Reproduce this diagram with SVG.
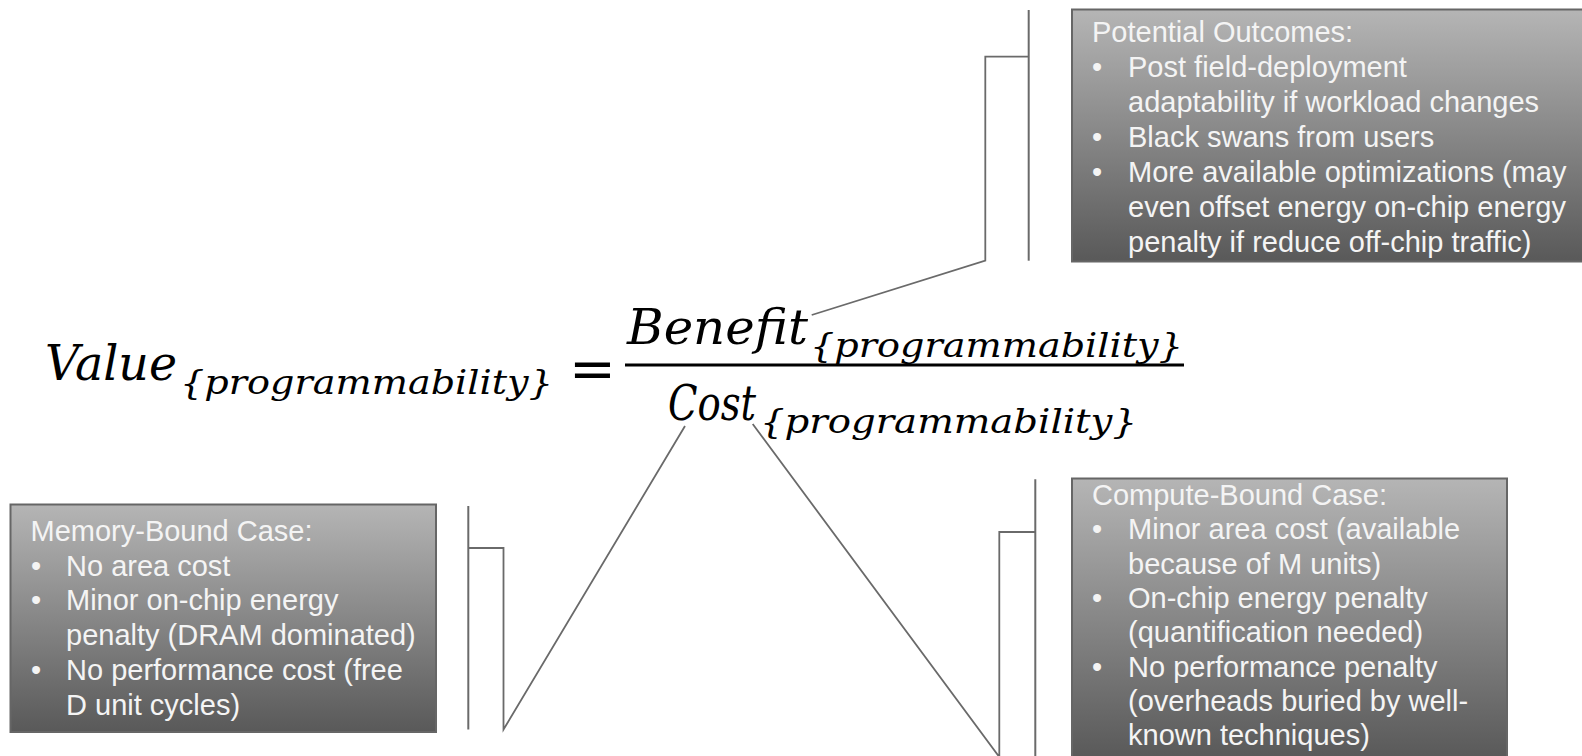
<svg xmlns="http://www.w3.org/2000/svg" width="1582" height="756" viewBox="0 0 1582 756">
  <defs>
    <linearGradient id="boxFill" x1="0" y1="0" x2="0" y2="1">
      <stop offset="0" stop-color="#b5b5b5"/>
      <stop offset="1" stop-color="#595959"/>
    </linearGradient>
    <style>
      .box { fill: url(#boxFill); stroke: #666666; stroke-width: 2; }
      .bar { stroke: #6a6a6a; stroke-width: 2; fill: none; }
      .lead { stroke: #6a6a6a; stroke-width: 1.8; fill: none; }
      .txt { font-family: "Liberation Sans", Arial, sans-serif; font-size: 29px; fill: #f4f4f4; }
      .math { font-family: "DejaVu Serif", "Liberation Serif", serif; font-style: italic; fill: #000; }
      .big { font-size: 48px; }
      .sub { font-size: 34px; }
    </style>
  </defs>
  <rect width="1582" height="756" fill="#ffffff"/>

  <!-- value equation -->
  <g id="equation">
    <text class="math big" x="45" y="380" textLength="132" lengthAdjust="spacingAndGlyphs">Value</text>
    <text class="math sub" x="180" y="394" textLength="373" lengthAdjust="spacingAndGlyphs">{programmability}</text>
    <text x="569" y="388" font-family="DejaVu Serif, serif" font-size="56" fill="#000">=</text>
    <line x1="625" y1="365" x2="1184" y2="365" stroke="#000" stroke-width="3"/>
    <text class="math big" x="627" y="344" textLength="181" lengthAdjust="spacingAndGlyphs">Benefit</text>
    <text class="math sub" x="810" y="357" textLength="373" lengthAdjust="spacingAndGlyphs">{programmability}</text>
    <text class="math big" x="668" y="420" textLength="88" lengthAdjust="spacingAndGlyphs">Cost</text>
    <text class="math sub" x="760" y="433" textLength="377" lengthAdjust="spacingAndGlyphs">{programmability}</text>
  </g>

  <!-- callout: potential outcomes -->
  <g id="outcomes">
    <line class="bar" x1="1028.7" y1="10" x2="1028.7" y2="260.7"/>
    <rect class="box" x="1072" y="9.5" width="520" height="252"/>
    <text class="txt" x="1092" y="42">Potential Outcomes:</text>
    <text class="txt" x="1092" y="77">•</text>
    <text class="txt" x="1128" y="77">Post field-deployment</text>
    <text class="txt" x="1128" y="112">adaptability if workload changes</text>
    <text class="txt" x="1092" y="147">•</text>
    <text class="txt" x="1128" y="147">Black swans from users</text>
    <text class="txt" x="1092" y="182">•</text>
    <text class="txt" x="1128" y="182">More available optimizations (may</text>
    <text class="txt" x="1128" y="217">even offset energy on-chip energy</text>
    <text class="txt" x="1128" y="252">penalty if reduce off-chip traffic)</text>
  </g>

  <!-- callout: memory-bound case -->
  <g id="memory-bound">
    <line class="bar" x1="468.3" y1="506" x2="468.3" y2="729.5"/>
    <rect class="box" x="10.5" y="504.5" width="425.5" height="227.5"/>
    <text class="txt" x="30.5" y="541">Memory-Bound Case:</text>
    <text class="txt" x="31" y="575.7">•</text>
    <text class="txt" x="66" y="575.7">No area cost</text>
    <text class="txt" x="31" y="610.4">•</text>
    <text class="txt" x="66" y="610.4">Minor on-chip energy</text>
    <text class="txt" x="66" y="645.1">penalty (DRAM dominated)</text>
    <text class="txt" x="31" y="679.8">•</text>
    <text class="txt" x="66" y="679.8">No performance cost (free</text>
    <text class="txt" x="66" y="714.5">D unit cycles)</text>
  </g>

  <!-- callout: compute-bound case -->
  <g id="compute-bound">
    <line class="bar" x1="1035.3" y1="479.3" x2="1035.3" y2="760"/>
    <rect class="box" x="1072" y="478.5" width="435" height="280"/>
    <text class="txt" x="1092" y="505">Compute-Bound Case:</text>
    <text class="txt" x="1092" y="539.3">•</text>
    <text class="txt" x="1128" y="539.3">Minor area cost (available</text>
    <text class="txt" x="1128" y="573.6">because of M units)</text>
    <text class="txt" x="1092" y="607.9">•</text>
    <text class="txt" x="1128" y="607.9">On-chip energy penalty</text>
    <text class="txt" x="1128" y="642.2">(quantification needed)</text>
    <text class="txt" x="1092" y="676.5">•</text>
    <text class="txt" x="1128" y="676.5">No performance penalty</text>
    <text class="txt" x="1128" y="710.8">(overheads buried by well-</text>
    <text class="txt" x="1128" y="745.1">known techniques)</text>
  </g>

  <!-- leader lines from the accent bars to the equation terms -->
  <g id="connectors">
    <path class="lead" d="M1028.7 56.7 H985.3 V260.7 L811.7 315"/>
    <path class="lead" d="M468.3 548 H503.5 V729.5 L685 426"/>
    <path class="lead" d="M1035.3 532 H999.3 V757 L752.7 424"/>
  </g>
</svg>
